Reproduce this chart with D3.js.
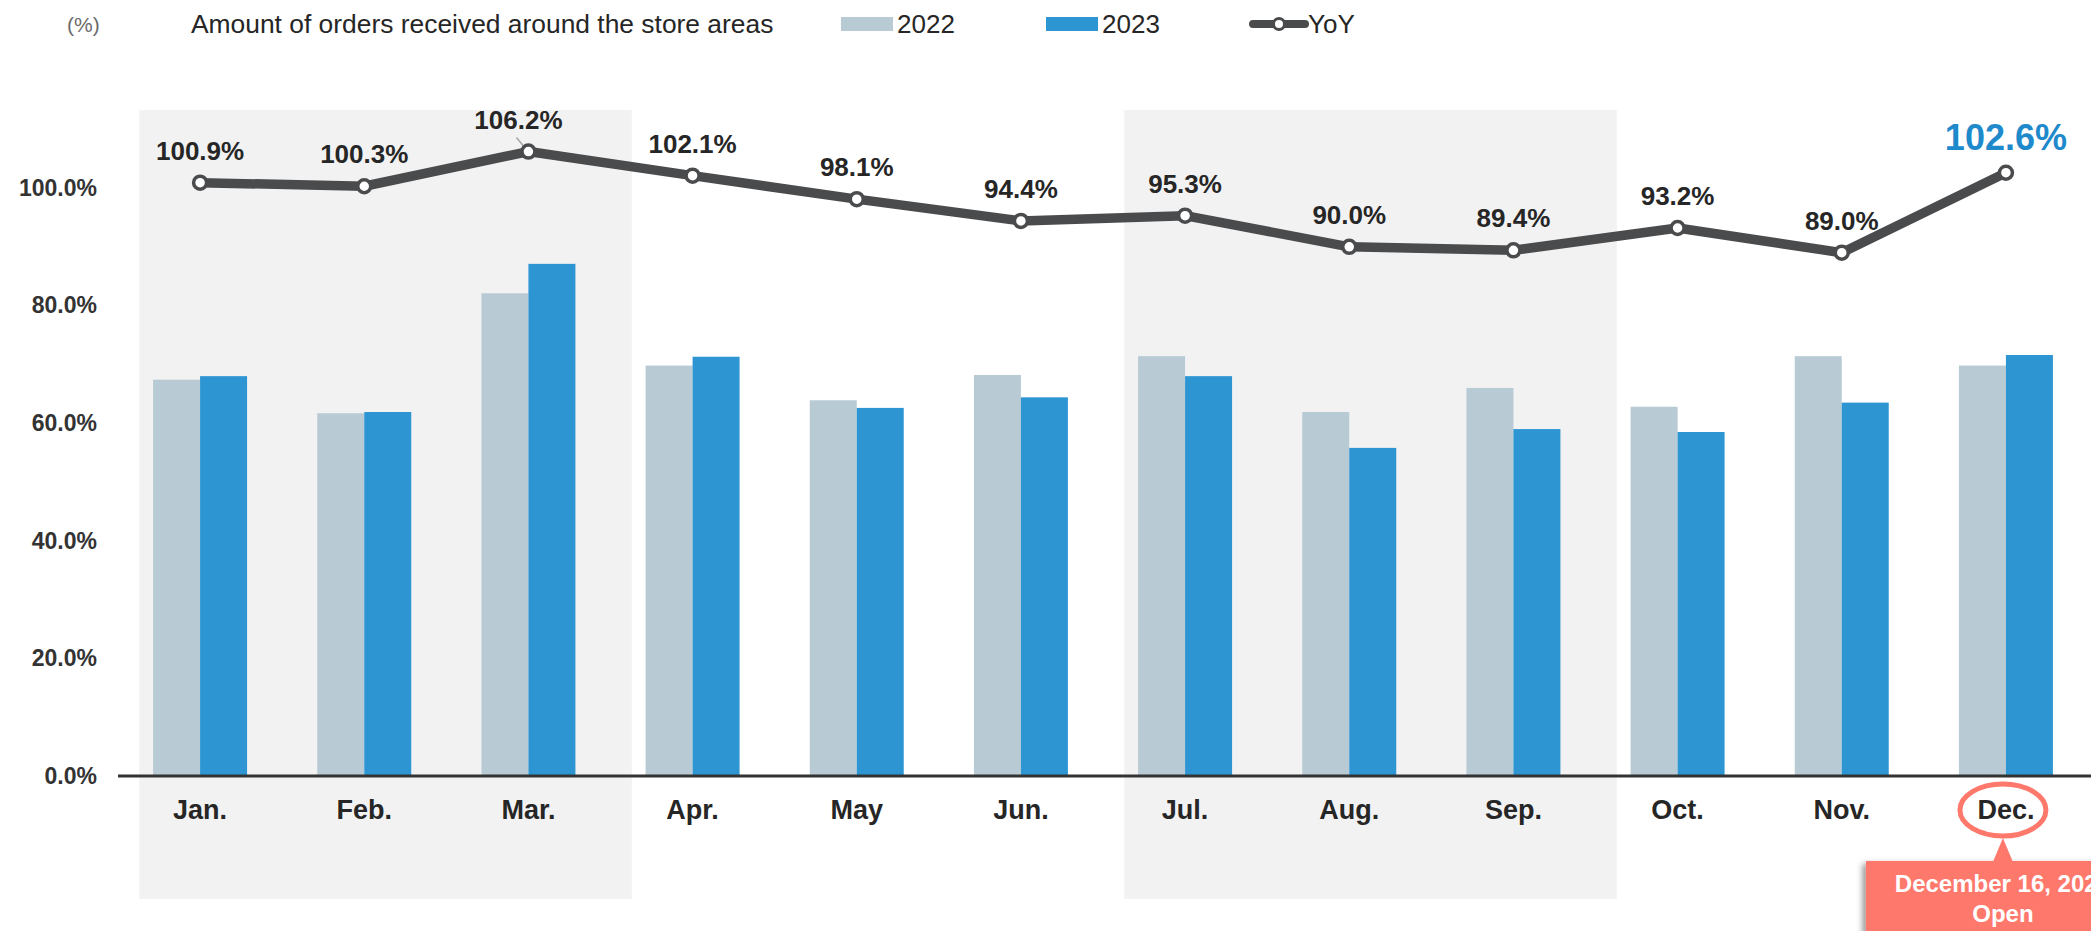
<!DOCTYPE html>
<html>
<head>
<meta charset="utf-8">
<script src="https://cdn.jsdelivr.net/npm/d3@7"></script>
<style>
  html, body { margin: 0; padding: 0; background: #fff; overflow: hidden; }
  svg { display: block; font-family: Arial, "Liberation Sans", sans-serif; }
</style>
</head>
<body>
<svg id="chart" width="2091" height="931"></svg>
<script>
// Monthly order amounts around the store areas (index, %) and year-on-year ratio
const months = ["Jan.", "Feb.", "Mar.", "Apr.", "May", "Jun.", "Jul.", "Aug.", "Sep.", "Oct.", "Nov.", "Dec."];
const orders2022 = [67.4, 61.7, 82.1, 69.8, 63.9, 68.2, 71.4, 61.9, 66.0, 62.8, 71.4, 69.8];
const orders2023 = [68.0, 61.9, 87.1, 71.3, 62.6, 64.4, 68.0, 55.8, 59.0, 58.5, 63.5, 71.6];
const yoyRatio   = [100.9, 100.3, 106.2, 102.1, 98.1, 94.4, 95.3, 90.0, 89.4, 93.2, 89.0, 102.6];
const yTicks = [0, 20, 40, 60, 80, 100];
const seriesNames = ["2022", "2023"];
const shadedRanges = [["Jan.", "Mar."], ["Jul.", "Sep."]];
const highlightMonth = "Dec.";
const calloutLines = ["December 16, 2023", "Open"];

const colors = { "2022": "#B8CAD4", "2023": "#2D95D2" };
const lineColor = "#4A4B4D";
const accent = "#FF786C";

const svg = d3.select("#chart");

const x = d3.scaleBand()
  .domain(months)
  .range([118, 2088])
  .paddingInner(0.4275)
  .paddingOuter(0.21375);
const step = x.step();
const xSub = d3.scaleBand().domain(seriesNames).range([0, x.bandwidth()]);
const y = d3.scaleLinear().domain([0, 100]).range([776, 188]);
const cx = m => x(m) + x.bandwidth() / 2;

// shaded quarter backgrounds
const bandStart = m => x(m) - step * x.paddingOuter();
svg.append("g").selectAll("rect")
  .data(shadedRanges)
  .join("rect")
  .attr("x", d => bandStart(d[0]) + step * 0.13)
  .attr("y", 110)
  .attr("width", d => bandStart(d[1]) + step - bandStart(d[0]))
  .attr("height", 789)
  .attr("fill", "#F2F2F2");

// grouped bars
const rows = months.map((m, i) => ({ month: m, "2022": orders2022[i], "2023": orders2023[i] }));
svg.append("g").selectAll("g")
  .data(rows)
  .join("g")
  .attr("transform", d => `translate(${x(d.month)},0)`)
  .selectAll("rect")
  .data(d => seriesNames.map(k => ({ key: k, value: d[k] })))
  .join("rect")
  .attr("x", d => xSub(d.key))
  .attr("width", xSub.bandwidth())
  .attr("y", d => y(d.value))
  .attr("height", d => y(0) - y(d.value))
  .attr("fill", d => colors[d.key]);

// y axis labels
const yAxis = d3.axisLeft(y).tickValues(yTicks).tickSize(0).tickPadding(0)
  .tickFormat(d => d.toFixed(1) + "%");
const yg = svg.append("g").attr("transform", "translate(97,0)").call(yAxis);
yg.select(".domain").remove();
yg.selectAll("text")
  .attr("font-size", 23).attr("font-weight", "bold").attr("fill", "#333")
  .attr("font-family", "Arial, 'Liberation Sans', sans-serif");

// x axis
const xAxis = d3.axisBottom(x).tickSize(0).tickPadding(0);
const xg = svg.append("g").attr("transform", `translate(0,${y(0)})`).call(xAxis);
xg.select(".domain").attr("stroke", "#333").attr("stroke-width", 3)
  .attr("d", `M118,0H2091`);
xg.selectAll("text")
  .attr("y", 34).attr("dy", "0.35em")
  .attr("font-size", 27).attr("font-weight", "bold").attr("fill", "#262626")
  .attr("font-family", "Arial, 'Liberation Sans', sans-serif");

// YoY line
const line = d3.line().x((d, i) => cx(months[i])).y(d => y(d));
svg.append("path")
  .datum(yoyRatio)
  .attr("d", line)
  .attr("fill", "none")
  .attr("stroke", lineColor)
  .attr("stroke-width", 9.5)
  .attr("stroke-linejoin", "round");

// leader line for March label
const marIdx = months.indexOf("Mar.");
svg.append("line")
  .attr("x1", cx("Mar.") - 12).attr("y1", y(yoyRatio[marIdx]) - 14)
  .attr("x2", cx("Mar.") - 2).attr("y2", y(yoyRatio[marIdx]) - 2)
  .attr("stroke", "#A6A6A6").attr("stroke-width", 1.5);

svg.append("g").selectAll("circle")
  .data(yoyRatio)
  .join("circle")
  .attr("cx", (d, i) => cx(months[i]))
  .attr("cy", d => y(d))
  .attr("r", 6.5)
  .attr("fill", "#fff")
  .attr("stroke", lineColor)
  .attr("stroke-width", 3.5);

// YoY value labels
svg.append("g").selectAll("text")
  .data(yoyRatio)
  .join("text")
  .attr("x", (d, i) => cx(months[i]) + (months[i] === "Mar." ? -10 : 0))
  .attr("y", (d, i) => y(d) - (months[i] === highlightMonth ? 35 : 32))
  .attr("dy", "0.35em")
  .attr("text-anchor", "middle")
  .attr("font-weight", "bold")
  .attr("font-size", (d, i) => months[i] === highlightMonth ? 36 : 26)
  .attr("fill", (d, i) => months[i] === highlightMonth ? "#1F8ACB" : "#262626")
  .text(d => d.toFixed(1) + "%");

// header: unit, title, legend
const header = svg.append("g").attr("font-family", "Arial, 'Liberation Sans', sans-serif");
header.append("text").attr("x", 67).attr("y", 25).attr("dy", "0.35em")
  .attr("font-size", 21).attr("fill", "#6b6b6b").text("(%)");
header.append("text").attr("x", 191).attr("y", 24).attr("dy", "0.35em")
  .attr("font-size", 26.4).attr("fill", "#262626")
  .text("Amount of orders received around the store areas");

const legendItems = [
  { name: "2022", x: 841 },
  { name: "2023", x: 1046 }
];
legendItems.forEach(it => {
  header.append("rect").attr("x", it.x).attr("y", 17).attr("width", 52).attr("height", 14)
    .attr("fill", colors[it.name]);
  header.append("text").attr("x", it.x + 56).attr("y", 24).attr("dy", "0.35em")
    .attr("font-size", 26).attr("fill", "#262626").text(it.name);
});
header.append("line").attr("x1", 1253).attr("x2", 1305).attr("y1", 24).attr("y2", 24)
  .attr("stroke", lineColor).attr("stroke-width", 8).attr("stroke-linecap", "round");
header.append("circle").attr("cx", 1279).attr("cy", 24).attr("r", 5.5)
  .attr("fill", "#fff").attr("stroke", lineColor).attr("stroke-width", 3);
header.append("text").attr("x", 1308).attr("y", 24).attr("dy", "0.35em")
  .attr("font-size", 26).attr("fill", "#262626").text("YoY");

// opening callout on December
const defs = svg.append("defs");
const f = defs.append("filter").attr("id", "shadow").attr("x", "-20%").attr("y", "-20%")
  .attr("width", "140%").attr("height", "140%");
f.append("feDropShadow").attr("dx", -3).attr("dy", 3).attr("stdDeviation", 3)
  .attr("flood-color", "#000").attr("flood-opacity", 0.45);

const dcx = cx(highlightMonth) - 3;
svg.append("ellipse")
  .attr("cx", dcx).attr("cy", 810).attr("rx", 43).attr("ry", 26)
  .attr("fill", "none").attr("stroke", accent).attr("stroke-width", 5);
const callout = svg.append("g");
callout.append("rect")
  .attr("x", dcx - 137).attr("y", 861).attr("width", 274).attr("height", 110)
  .attr("fill", accent).attr("filter", "url(#shadow)");
callout.append("path")
  .attr("d", `M${dcx - 10},862 L${dcx},838 L${dcx + 10},862 Z`)
  .attr("fill", accent);
callout.selectAll("text")
  .data(calloutLines)
  .join("text")
  .attr("x", dcx)
  .attr("y", (d, i) => 884 + i * 30)
  .attr("dy", "0.35em")
  .attr("text-anchor", "middle")
  .attr("font-size", 24)
  .attr("font-weight", "bold")
  .attr("fill", "#fff")
  .text(d => d);
</script>
</body>
</html>
